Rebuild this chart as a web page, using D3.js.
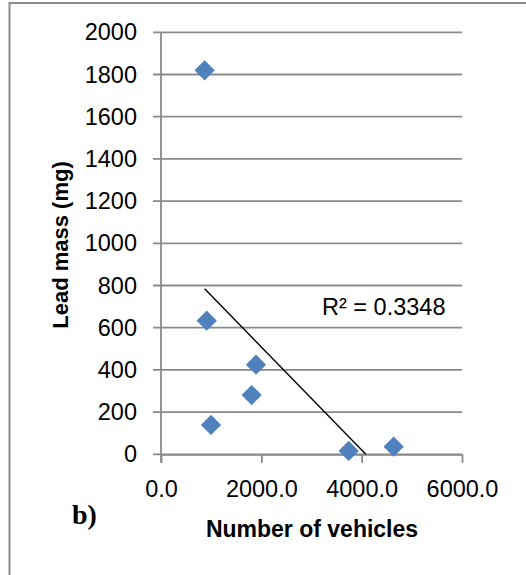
<!DOCTYPE html>
<html>
<head>
<meta charset="utf-8">
<script src="https://cdn.jsdelivr.net/npm/d3@7"></script>
<style>
  html, body { margin: 0; padding: 0; background: #fff; }
  svg { display: block; }
</style>
</head>
<body>
<script>
// Data
const vehicles = [870, 911, 1894, 1807, 997, 3741, 4638];
const leadMass = [1820, 633, 425, 281, 139, 16, 36];
const xTicks = [0, 2000, 4000, 6000];
const yTicks = [0, 200, 400, 600, 800, 1000, 1200, 1400, 1600, 1800, 2000];
const r2Label = "R² = 0.3348";
const xTitle = "Number of vehicles";
const yTitle = "Lead mass (mg)";
const panelLabel = "b)";

(function () {
const W = 526, H = 575;
const pL = 161, pR = 462, pT = 32.3, pB = 454.3;
const gridCol = "#8a8a8a";
const font = "'Liberation Sans', Arial, sans-serif";

const svg = d3.select("body").append("svg").attr("width", W).attr("height", H);

// frame
svg.append("path").attr("d", `M9.5,${H} L9.5,3 L${W},3`)
  .attr("fill", "none").attr("stroke", "#8c8c8c").attr("stroke-width", 2);

const x = d3.scaleLinear().domain([0, 6000]).range([pL, pR]);
const y = d3.scaleLinear().domain([0, 2000]).range([pB, pT]);

// gridlines
svg.append("g").selectAll("line").data(yTicks).join("line")
  .attr("x1", pL - 8).attr("x2", pR)
  .attr("y1", d => y(d)).attr("y2", d => y(d))
  .attr("stroke", gridCol).attr("stroke-width", 1.8);

// y axis labels
const yAxis = svg.append("g").attr("transform", `translate(${pL},0)`)
  .call(d3.axisLeft(y).tickValues(yTicks).tickSize(0).tickPadding(24).tickFormat(d3.format("d")));
yAxis.select(".domain").remove();
yAxis.selectAll("text").attr("font-family", font).attr("font-size", 23.5).attr("fill", "#000");

// y axis line
svg.append("line").attr("x1", pL).attr("x2", pL).attr("y1", pT).attr("y2", pB + 8.5)
  .attr("stroke", gridCol).attr("stroke-width", 1.8);

// x axis
const xAxis = svg.append("g").attr("transform", `translate(0,${pB})`)
  .call(d3.axisBottom(x).tickValues(xTicks).tickSizeInner(8.5).tickSizeOuter(0).tickPadding(18).tickFormat(d3.format(".1f")));
xAxis.select(".domain").attr("stroke", gridCol).attr("stroke-width", 1.8);
xAxis.selectAll(".tick line").attr("stroke", gridCol).attr("stroke-width", 1.8);
xAxis.selectAll("text").attr("font-family", font).attr("font-size", 23.5).attr("fill", "#000");

// trendline (least squares)
const n = vehicles.length;
const mx = d3.mean(vehicles), my = d3.mean(leadMass);
let sxy = 0, sxx = 0;
for (let i = 0; i < n; i++) { sxy += (vehicles[i] - mx) * (leadMass[i] - my); sxx += (vehicles[i] - mx) ** 2; }
const slope = sxy / sxx, intercept = my - slope * mx;
const x0 = d3.min(vehicles);
const x1 = Math.min(d3.max(vehicles), -intercept / slope);
svg.append("line")
  .attr("x1", x(x0)).attr("y1", y(intercept + slope * x0))
  .attr("x2", x(x1)).attr("y2", y(intercept + slope * x1))
  .attr("stroke", "#000").attr("stroke-width", 1.4);

// points
const sym = d3.symbol().type(d3.symbolSquare).size(205);
svg.append("g").selectAll("path").data(vehicles).join("path")
  .attr("d", sym)
  .attr("transform", (d, i) => `translate(${x(d)},${y(leadMass[i])}) rotate(45)`)
  .attr("fill", "#4f81bd");

// R² label
svg.append("text").attr("x", 322).attr("y", 315).text(r2Label)
  .attr("font-family", font).attr("font-size", 23.5).attr("fill", "#000");

// axis titles
svg.append("text").attr("x", 312).attr("y", 537).attr("text-anchor", "middle").text(xTitle)
  .attr("font-family", font).attr("font-size", 23).attr("font-weight", "bold").attr("fill", "#000");
svg.append("text").attr("transform", "translate(68,245) rotate(-90)").attr("text-anchor", "middle").text(yTitle)
  .attr("font-family", font).attr("font-size", 22).attr("font-weight", "bold").attr("fill", "#000");

// panel label
svg.append("text").attr("x", 72).attr("y", 524).text(panelLabel)
  .attr("font-family", "'Liberation Serif', 'Times New Roman', serif").attr("font-size", 28)
  .attr("font-weight", "bold").attr("fill", "#000");
})();
</script>
</body>
</html>
